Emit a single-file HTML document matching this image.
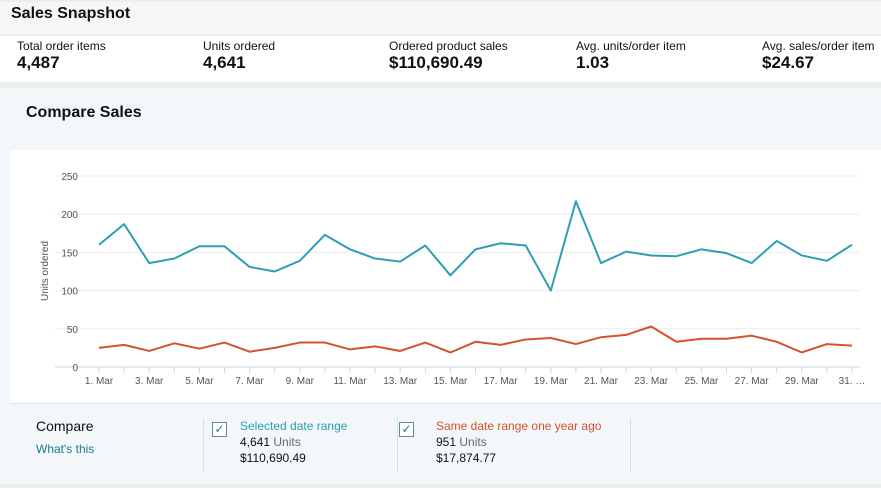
<!DOCTYPE html>
<html><head><meta charset="utf-8"><style>
body{margin:0;width:881px;height:488px;overflow:hidden;background:#eceeee;font-family:"Liberation Sans",sans-serif;color:#111;position:relative}
div{position:absolute}
.lbl{font-size:12px;color:#111}
.val{font-size:17px;font-weight:bold}
</style></head><body>
<div style="left:0;top:2px;width:881px;height:32px;background:#f6f6f6"></div>
<div style="left:11px;top:5px;font-size:16px;font-weight:bold">Sales Snapshot</div>
<div style="left:0;top:36px;width:881px;height:46px;background:#fff"></div>
<div style="left:17px;top:39px"><div class="lbl" style="position:static">Total order items</div><div class="val" style="position:static">4,487</div></div>
<div style="left:203px;top:39px"><div class="lbl" style="position:static">Units ordered</div><div class="val" style="position:static">4,641</div></div>
<div style="left:389px;top:39px"><div class="lbl" style="position:static">Ordered product sales</div><div class="val" style="position:static">$110,690.49</div></div>
<div style="left:576px;top:39px"><div class="lbl" style="position:static">Avg. units/order item</div><div class="val" style="position:static">1.03</div></div>
<div style="left:762px;top:39px;white-space:nowrap"><div class="lbl" style="position:static">Avg. sales/order item</div><div class="val" style="position:static">$24.67</div></div>
<div style="left:0;top:88px;width:881px;height:396px;background:#f4f7f9"></div>
<div style="left:26px;top:104px;font-size:16px;font-weight:bold">Compare Sales</div>
<div style="left:10px;top:150px;width:871px;height:253px;background:#fff;border-bottom:1px solid #e3e6e6"></div>
<svg style="position:absolute;left:0;top:0" width="881" height="488" id="svg"></svg>
<div style="left:36px;top:418px;font-size:14px">Compare</div>
<div style="left:36px;top:442px;font-size:12px;color:#147c8f">What's this</div>
<div style="left:203px;top:418px;width:1px;height:54px;background:#dde"></div>
<div style="left:397px;top:418px;width:1px;height:54px;background:#dde"></div>
<div style="left:630px;top:418px;width:1px;height:54px;background:#dde"></div>
<div style="left:212px;top:422px;width:13px;height:13px;border:1px solid #5a8fa0;background:#fff;font-size:12px;line-height:13px;text-align:center;color:#147c8f">✓</div>
<div style="left:240px;top:418px;font-size:12px;line-height:16px"><div style="position:static;color:#2a9fb3">Selected date range</div><div style="position:static">4,641 <span style="color:#666">Units</span></div><div style="position:static">$110,690.49</div></div>
<div style="left:399px;top:422px;width:13px;height:13px;border:1px solid #5a8fa0;background:#fff;font-size:12px;line-height:13px;text-align:center;color:#147c8f">✓</div>
<div style="left:436px;top:418px;font-size:12px;line-height:16px"><div style="position:static;color:#d4532b">Same date range one year ago</div><div style="position:static">951 <span style="color:#666">Units</span></div><div style="position:static">$17,874.77</div></div>
<script>
const days=[1,2,3,4,5,6,7,8,9,10,11,12,13,14,15,16,17,18,19,20,21,22,23,24,25,26,27,28,29,30,31];
const selectedUnits=[160,187,136,142,158,158,131,125,139,173,154,142,138,159,120,154,162,159,100,217,136,151,146,145,154,149,136,165,146,139,160];
const yearAgoUnits=[25,29,21,31,24,32,20,25,32,32,23,27,21,32,19,33,29,36,38,30,39,42,53,33,37,37,41,33,19,30,28];
const yTicks=[0,50,100,150,200,250];
const svg=document.getElementById('svg');const NS='http://www.w3.org/2000/svg';
const x=d=>99+(d-1)*(852-99)/30;const y=v=>367-v*(367-176)/250;
function mk(t,a){const e=document.createElementNS(NS,t);for(const k in a)e.setAttribute(k,a[k]);svg.appendChild(e);return e;}
yTicks.forEach(t=>{const l=mk('line',{x1:55,x2:860,y1:y(t),y2:y(t),stroke:t?'#ececec':'#ccd6eb','stroke-width':1});

const tx=mk('text',{x:78,y:y(t)+4,'text-anchor':'end','font-size':10,fill:'#555','font-family':'Liberation Sans'});tx.textContent=t;
});
days.forEach(d=>{const tk=mk('line',{x1:x(d),x2:x(d),y1:367,y2:373,stroke:'#ccd6eb'});
if(d%2==1){const tx=mk('text',{x:x(d),y:384,'text-anchor':'middle','font-size':10,fill:'#555','font-family':'Liberation Sans'});tx.textContent=d==31?'31. …':d+'. Mar';
}});
const yt=mk('text',{x:0,y:0,transform:'translate(48,271) rotate(-90)','text-anchor':'middle','font-size':10,fill:'#555','font-family':'Liberation Sans'});yt.textContent='Units ordered';

[[selectedUnits,'#2e9fb3','selected-range-line'],[yearAgoUnits,'#d4532b','year-ago-line']].forEach(([s,c,n])=>{
const p=mk('polyline',{points:s.map((v,i)=>x(days[i])+','+y(v)).join(' '),fill:'none',stroke:c,'stroke-width':2,'stroke-linejoin':'round'});
});
</script>
</body></html>
